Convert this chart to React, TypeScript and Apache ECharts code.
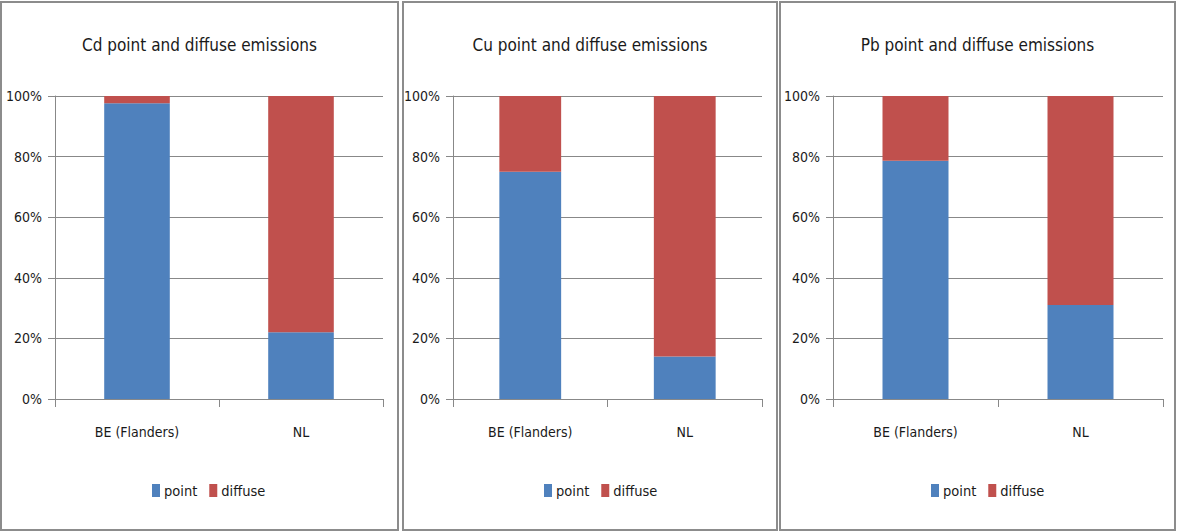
import React, { useEffect, useRef } from "react";
import * as echarts from "echarts";

// Share of point and diffuse emissions per region, in percent
const categories = ["BE (Flanders)", "NL"];
const metals = ["Cd", "Cu", "Pb"];
const cdPoint = [97.6, 22];
const cdDiffuse = [2.4, 78];
const cuPoint = [75, 14];
const cuDiffuse = [25, 86];
const pbPoint = [78.6, 31];
const pbDiffuse = [21.4, 69];
const yTicks = [0, 20, 40, 60, 80, 100];

const pointSeries = [cdPoint, cuPoint, pbPoint];
const diffuseSeries = [cdDiffuse, cuDiffuse, pbDiffuse];

const BLUE = "#4F81BD";
const RED = "#C0504D";
const GRID_GRAY = "#888888";
const TEXT = "#1a1a1a";
const FONT = "'DejaVu Sans Condensed', 'Liberation Sans Narrow', 'Liberation Sans', sans-serif";

// Panel frames and plot areas (pixels)
const panels = [
  { x: 1, y: 2, w: 397, h: 528, gridLeft: 55, gridWidth: 328, legendLeft: 152 },
  { x: 403, y: 2, w: 374, h: 528, gridLeft: 453, gridWidth: 309, legendLeft: 544 },
  { x: 780, y: 2, w: 395, h: 528, gridLeft: 833, gridWidth: 330, legendLeft: 931 },
];
const GRID_TOP = 96;
const GRID_HEIGHT = 303;

export default function App() {
  const ref = useRef<HTMLDivElement>(null);

  useEffect(() => {
    if (!ref.current) return;
    const chart = echarts.init(ref.current, null, { renderer: "svg" });

    const grids = panels.map((p) => ({
      left: p.gridLeft,
      top: GRID_TOP,
      width: p.gridWidth,
      height: GRID_HEIGHT,
      containLabel: false,
    }));

    const xAxes = panels.map((_, i) => ({
      type: "category",
      gridIndex: i,
      data: categories,
      axisLine: { lineStyle: { color: GRID_GRAY, width: 1 } },
      axisTick: { show: true, length: 8, lineStyle: { color: GRID_GRAY } },
      axisLabel: { color: TEXT, fontFamily: FONT, fontSize: 14, margin: 26 },
    }));

    const yAxes = panels.map((_, i) => ({
      type: "value",
      gridIndex: i,
      min: yTicks[0],
      max: yTicks[yTicks.length - 1],
      interval: yTicks[1] - yTicks[0],
      axisLine: { show: true, lineStyle: { color: GRID_GRAY, width: 1 } },
      axisTick: { show: true, length: 7, lineStyle: { color: GRID_GRAY } },
      splitLine: { show: true, lineStyle: { color: GRID_GRAY, width: 1 } },
      axisLabel: {
        color: TEXT,
        fontFamily: FONT,
        fontSize: 14,
        margin: 13,
        formatter: "{value}%",
      },
    }));

    const series: any[] = [];
    panels.forEach((_, i) => {
      series.push({
        name: "point",
        type: "bar",
        stack: "s" + i,
        xAxisIndex: i,
        yAxisIndex: i,
        barWidth: "40%",
        itemStyle: { color: BLUE },
        data: pointSeries[i],
      });
      series.push({
        name: "diffuse",
        type: "bar",
        stack: "s" + i,
        xAxisIndex: i,
        yAxisIndex: i,
        barWidth: "40%",
        itemStyle: { color: RED },
        data: diffuseSeries[i],
      });
    });

    const titles = panels.map((p, i) => ({
      text: metals[i] + " point and diffuse emissions",
      left: p.x + p.w / 2,
      top: 36,
      padding: 0,
      textAlign: "center",
      textStyle: { color: TEXT, fontFamily: FONT, fontSize: 17, fontWeight: "normal" },
    }));

    const legends = panels.map((p) => ({
      data: ["point", "diffuse"],
      left: p.legendLeft,
      top: 483,
      padding: 0,
      itemWidth: 8,
      itemHeight: 13,
      itemGap: 12,
      icon: "rect",
      textStyle: { color: TEXT, fontFamily: FONT, fontSize: 14.5, padding: [0, 0, 0, -1] },
      selectedMode: false,
    }));

    const frames = panels.map((p) => ({
      type: "rect",
      shape: { x: p.x, y: p.y, width: p.w, height: p.h },
      style: { fill: "none", stroke: "#8c8c8c", lineWidth: 2 },
      silent: true,
    }));

    chart.setOption({
      animation: false,
      backgroundColor: "#ffffff",
      title: titles,
      legend: legends,
      grid: grids,
      xAxis: xAxes,
      yAxis: yAxes,
      series,
      graphic: frames,
    });

    return () => chart.dispose();
  }, []);

  return (
    <div
      ref={ref}
      style={{ position: "fixed", left: 0, top: 0, width: 1177, height: 532 }}
    />
  );
}
